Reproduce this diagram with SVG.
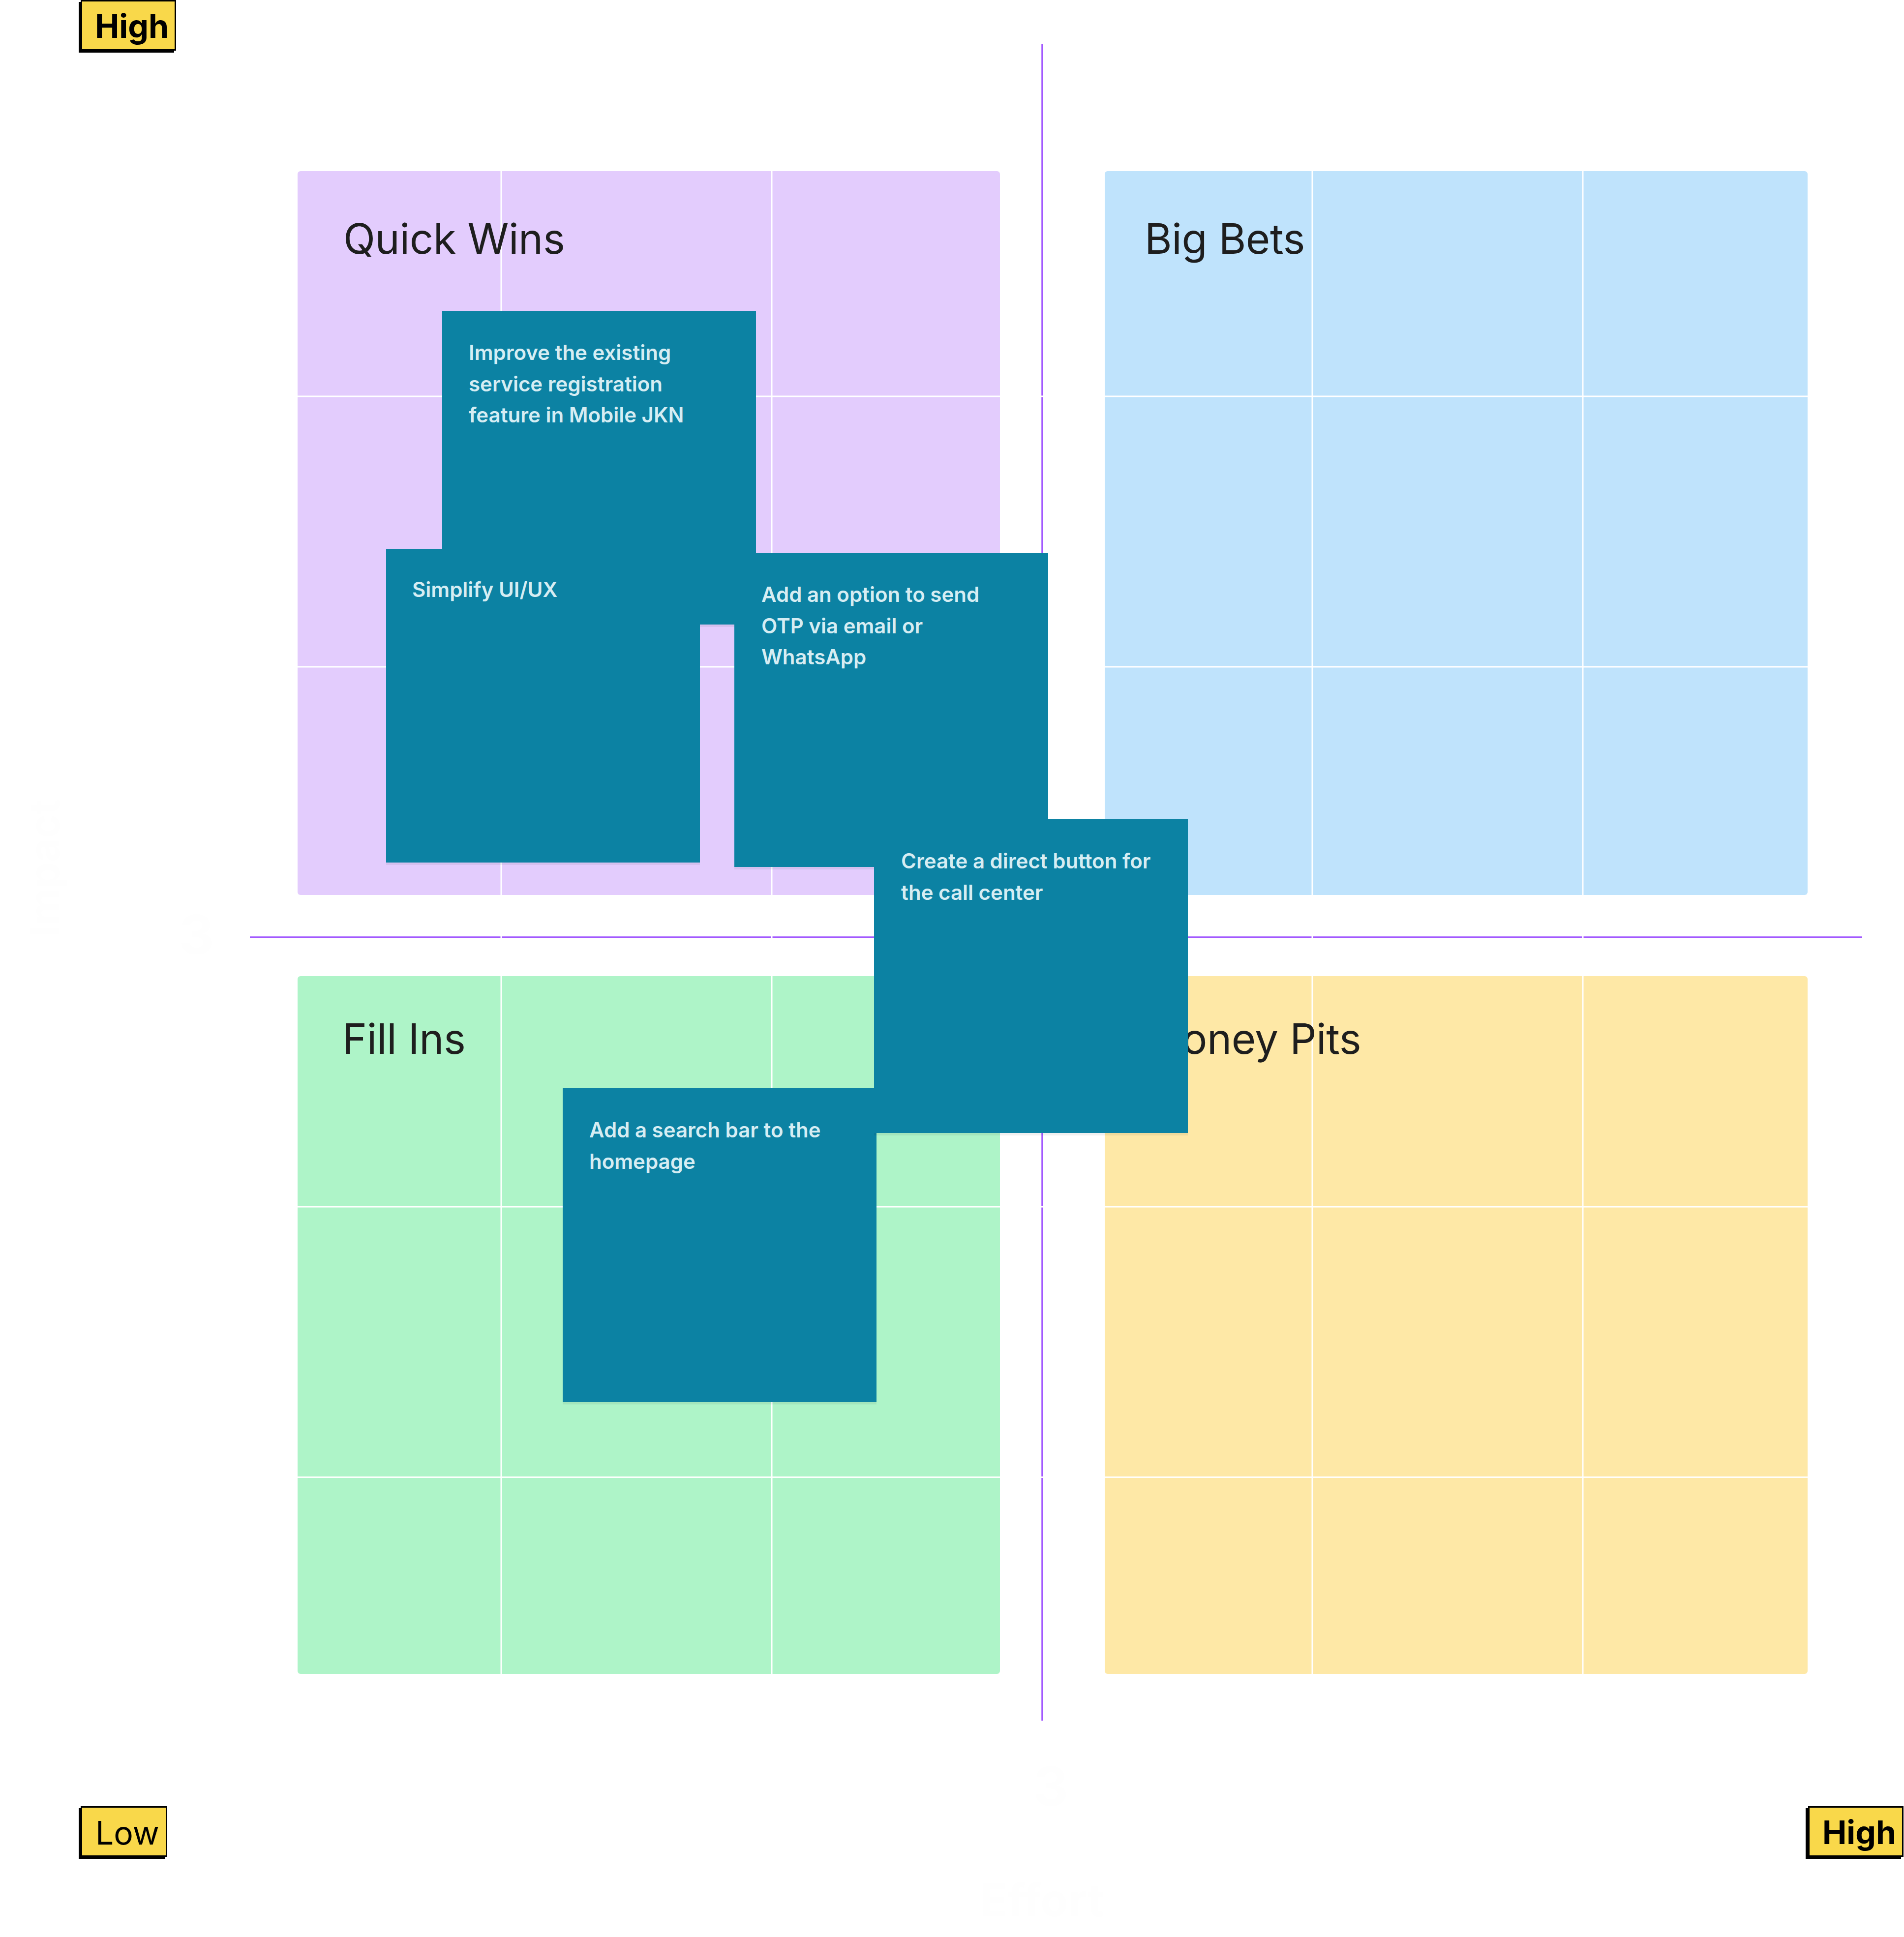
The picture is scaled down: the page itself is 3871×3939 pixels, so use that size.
<svg xmlns="http://www.w3.org/2000/svg" width="3871" height="3939" viewBox="0 0 3871 3939">
<defs>
<style>
.quad-title{font-family:Inter,"Noto Sans",sans-serif;font-size:85px;letter-spacing:-0.4px;fill:#1E1E1E;}
.note-rect{fill:#0C82A3;}
.note-text{font-family:Inter,"Noto Sans",sans-serif;font-size:42px;font-weight:600;fill:#D6EDF3;}
.grid{stroke:#FFFFFF;stroke-width:3;}
.axis{stroke:#A259FF;stroke-width:3.5;}
.tag-shadow{fill:#000000;}
.tag-box{fill:#F9D84A;stroke:#000000;stroke-width:3;}
.tag-text{font-family:Inter,"Noto Sans",sans-serif;font-size:66px;fill:#000000;}
.ghost{font-family:Inter,"Noto Sans",sans-serif;font-weight:700;fill:#FEFEFE;}
.note-shadow{fill:#000000;opacity:0.06;}
</style>
</defs>
<rect x="0" y="0" width="3871" height="3939" fill="#FFFFFF"/>

<g id="ghost-labels">
<text class="ghost" font-size="83" transform="translate(120,1905) rotate(-90)">Impact</text>
<text class="ghost" font-size="92" x="1992" y="3897">Effort</text>
<text class="ghost" font-size="110" x="364" y="1940">3</text>
<text class="ghost" font-size="110" x="2101" y="3672">3</text>
</g>

<g id="quadrants">
<g id="quick-wins"><rect x="605" y="348" width="1428" height="1472" rx="6" fill="#E3CCFD"/></g>
<g id="big-bets"><rect x="2246" y="348" width="1429" height="1472" rx="6" fill="#BFE3FC"/></g>
<g id="fill-ins"><rect x="605" y="1985" width="1428" height="1419" rx="6" fill="#AEF4C8"/></g>
<g id="money-pits"><rect x="2246" y="1985" width="1429" height="1419" rx="6" fill="#FEE8A6"/></g>
</g>

<g id="connectors">
<line class="axis" x1="2119" y1="90" x2="2119" y2="3499"/>
<line class="axis" x1="508" y1="1906" x2="3786" y2="1906"/>
<line class="grid" x1="1019" y1="348" x2="1019" y2="3404"/>
<line class="grid" x1="1569" y1="348" x2="1569" y2="3404"/>
<line class="grid" x1="2668" y1="348" x2="2668" y2="3404"/>
<line class="grid" x1="3218" y1="348" x2="3218" y2="3404"/>
<line class="grid" x1="605" y1="806" x2="3675" y2="806"/>
<line class="grid" x1="605" y1="1356" x2="3675" y2="1356"/>
<line class="grid" x1="605" y1="2454" x2="3675" y2="2454"/>
<line class="grid" x1="605" y1="3004" x2="3675" y2="3004"/>
</g>

<g id="quadrant-titles">
<text class="quad-title" x="698" y="516">Quick Wins</text>
<text class="quad-title" x="2327" y="516">Big Bets</text>
<text class="quad-title" x="696" y="2143">Fill Ins</text>
<text class="quad-title" x="2327" y="2143">Money Pits</text>
</g>

<g id="note-improve">
<rect class="note-shadow" x="899" y="1270" width="638" height="5"/>
<rect class="note-rect" x="899" y="632" width="638" height="638"/>
<text class="note-text" x="953" y="732">Improve the existing</text>
<text class="note-text" x="953" y="796">service registration</text>
<text class="note-text" x="953" y="859">feature in Mobile JKN</text>
</g>
<g id="note-simplify">
<rect class="note-shadow" x="785" y="1754" width="638" height="5"/>
<rect class="note-rect" x="785" y="1116" width="638" height="638"/>
<text class="note-text" x="838" y="1214">Simplify UI/UX</text>
</g>
<g id="note-otp">
<rect class="note-shadow" x="1493" y="1763" width="638" height="5"/>
<rect class="note-rect" x="1493" y="1125" width="638" height="638"/>
<text class="note-text" x="1548" y="1224">Add an option to send</text>
<text class="note-text" x="1548" y="1288">OTP via email or</text>
<text class="note-text" x="1548" y="1351">WhatsApp</text>
</g>
<g id="note-search">
<rect class="note-shadow" x="1144" y="2851" width="638" height="5"/>
<rect class="note-rect" x="1144" y="2213" width="638" height="638"/>
<text class="note-text" x="1198" y="2313">Add a search bar to the</text>
<text class="note-text" x="1198" y="2377">homepage</text>
</g>
<g id="note-callcenter">
<rect class="note-shadow" x="1777" y="2304" width="638" height="5"/>
<rect class="note-rect" x="1777" y="1666" width="638" height="638"/>
<text class="note-text" x="1832" y="1766">Create a direct button for</text>
<text class="note-text" x="1832" y="1830">the call center</text>
</g>

<g id="tag-high-top">
<rect class="tag-shadow" x="160" y="4" width="194" height="103"/>
<rect class="tag-box" x="165.5" y="1.5" width="191" height="100"/>
<text class="tag-text" font-weight="700" x="193" y="77">High</text>
</g>
<g id="tag-low">
<rect class="tag-shadow" x="160" y="3677" width="176" height="103"/>
<rect class="tag-box" x="165.5" y="3674.5" width="173" height="100"/>
<text class="tag-text" x="194" y="3751">Low</text>
</g>
<g id="tag-high-right">
<rect class="tag-shadow" x="3671" y="3677" width="194" height="103"/>
<rect class="tag-box" x="3677.5" y="3674.5" width="191" height="100"/>
<text class="tag-text" font-weight="700" x="3705" y="3750">High</text>
</g>
</svg>
